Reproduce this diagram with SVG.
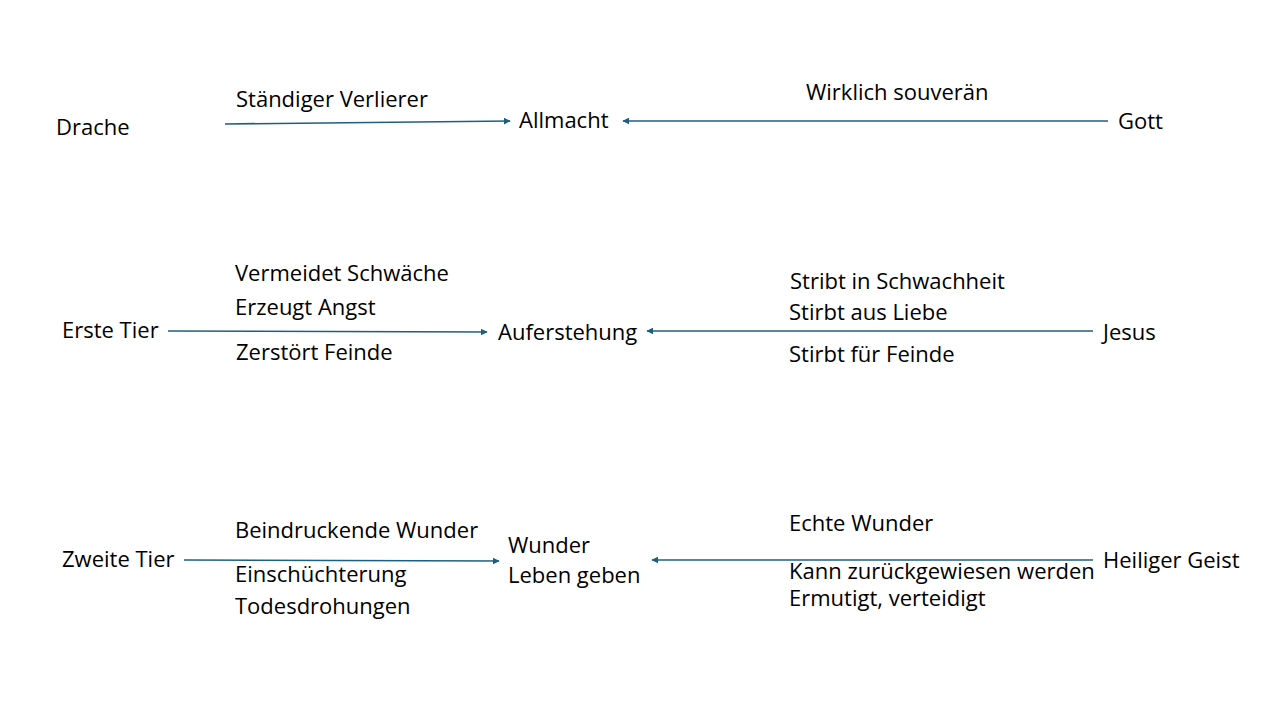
<svg xmlns="http://www.w3.org/2000/svg" width="1280" height="720" viewBox="0 0 1280 720">
<style>
text{font-family:"Open Sans","Liberation Sans",Arial,sans-serif;font-size:22px;fill:#000}
.c{stroke:#1f5f7e;stroke-width:1.6;fill:none;marker-end:url(#a)}
</style>
<defs>
<marker id="a" viewBox="0 0 10 10" refX="9" refY="5" markerWidth="7" markerHeight="7" markerUnits="userSpaceOnUse" orient="auto"><path d="M0,0L10,5L0,10z" fill="#1f5f7e"/></marker>
</defs>
<rect width="1280" height="720" fill="#fff"/>
<g id="connectors">
<path class="c" d="M225,124L510,121"/>
<path class="c" d="M1108,121L623,121"/>
<path class="c" d="M168,331L487,332"/>
<path class="c" d="M1093,331L647,331"/>
<path class="c" d="M184,560L499,561"/>
<path class="c" d="M1093,560L652,560"/>
</g>
<g id="drache"><text x="56" y="135">Drache</text></g>
<g id="allmacht"><text x="519" y="128">Allmacht</text></g>
<g id="gott"><text x="1118" y="129">Gott</text></g>
<g id="erste-tier"><text x="62" y="338">Erste Tier</text></g>
<g id="auferstehung"><text x="498" y="340">Auferstehung</text></g>
<g id="jesus"><text x="1103" y="340">Jesus</text></g>
<g id="zweite-tier"><text x="62" y="567">Zweite Tier</text></g>
<g id="wunder"><text x="508" y="553">Wunder</text><text x="508" y="583">Leben geben</text></g>
<g id="heiliger-geist"><text x="1103" y="568">Heiliger Geist</text></g>
<g id="labels">
<text x="236" y="107">Ständiger Verlierer</text>
<text x="806" y="100">Wirklich souverän</text>
<text x="235" y="281">Vermeidet Schwäche</text>
<text x="235" y="315">Erzeugt Angst</text>
<text x="236" y="360">Zerstört Feinde</text>
<text x="790" y="289">Stribt in Schwachheit</text>
<text x="789" y="320">Stirbt aus Liebe</text>
<text x="789" y="362">Stirbt für Feinde</text>
<text x="235" y="538">Beindruckende Wunder</text>
<text x="235" y="582">Einschüchterung</text>
<text x="235" y="614">Todesdrohungen</text>
<text x="789" y="531">Echte Wunder</text>
<text x="789" y="579">Kann zurückgewiesen werden</text>
<text x="789" y="606">Ermutigt, verteidigt</text>
</g>
</svg>
